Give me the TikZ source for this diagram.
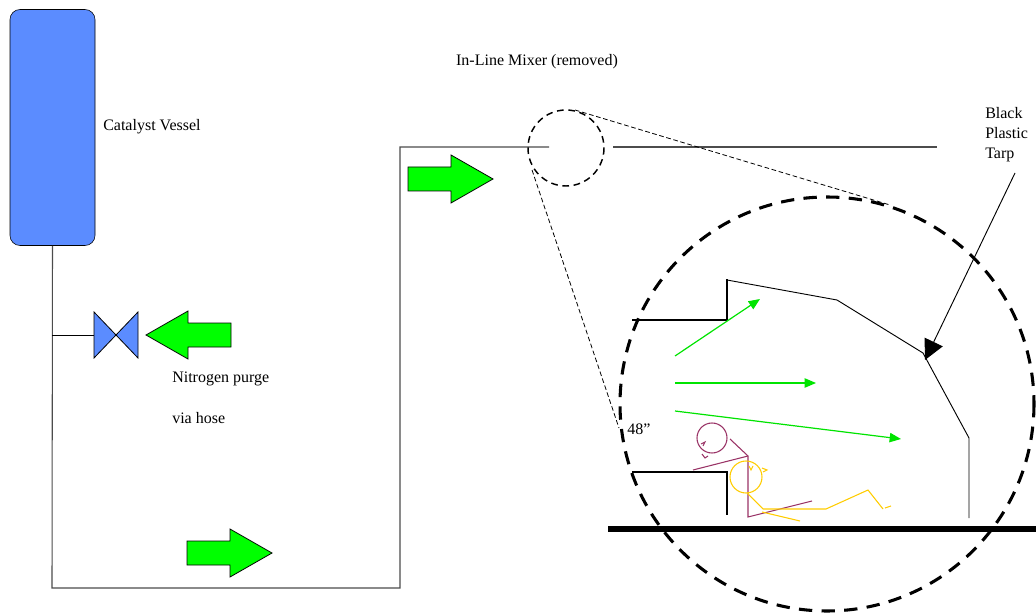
\documentclass[tikz,border=0pt]{standalone}
\usepackage{fontspec}
\setmainfont{Liberation Serif}
\usetikzlibrary{arrows.meta}
\definecolor{vesselblue}{RGB}{91,140,255}
\definecolor{purgegreen}{RGB}{0,255,0}
\definecolor{flowgreen}{RGB}{0,228,0}
\definecolor{workerplum}{RGB}{153,51,102}
\definecolor{workergold}{RGB}{255,204,0}
\tikzset{
  pipe/.style={line width=0.8pt, black!70},
  wall/.style={line width=1.3pt},
  tarpline/.style={line width=0.7pt},
  flowarrow/.style={-{Triangle[length=8.5pt,width=7pt]}, line width=0.9pt, flowgreen},
  zoomring/.style={line width=2.3pt, dash pattern=on 10pt off 7pt},
  mixring/.style={line width=1.1pt, dash pattern=on 5pt off 3.5pt},
  guide/.style={line width=0.6pt, dash pattern=on 3.5pt off 2pt},
  lbl/.style={font=\fontsize{12}{15}\selectfont, inner sep=0pt, anchor=west, align=left},
  vessel/.style={draw, fill=vesselblue, rounded corners=7.5pt, minimum width=63.75pt, minimum height=177pt, inner sep=0pt},
  worker/.style={line width=0.8pt},
  bigarrow/.pic={\draw[fill=purgegreen, line width=0.6pt] (0,-12) -- (43,-12) -- (43,-24) -- (85,0) -- (43,24) -- (43,12) -- (0,12) -- cycle;}
}

\begin{document}
\begin{tikzpicture}[x=0.75pt, y=-0.75pt]
  \useasboundingbox (0,0) rectangle (1036,613);

  % catalyst vessel and purge line
  \node[vessel] (vessel) at (52.5,127.5) {};
  \node[lbl] (vessellbl) at (103,127) {Catalyst Vessel};
  \coordinate (c1) at (52,588);
  \coordinate (c2) at (400,588);
  \coordinate (c3) at (400,147);
  \coordinate (mixin) at (549,147);
  \coordinate (mixout) at (613,147);
  \coordinate (pipeend) at (937,147);
  \draw[pipe] (vessel.south) -- (c1) -- (c2) -- (c3) -- (mixin);
  \draw[pipe] (mixout) -- (pipeend);

  % purge valve
  \coordinate (tee) at (52,335);
  \coordinate (valve) at (116,335);
  \draw[line width=0.6pt] (tee) -- (94,335);
  \draw[fill=vesselblue, line width=0.6pt] (94,312) -- (valve) -- (94,358) -- cycle;
  \draw[fill=vesselblue, line width=0.6pt] (138,312) -- (valve) -- (138,358) -- cycle;
  \pic[rotate=180] at (231,335) {bigarrow};
  \node[lbl] (purge1) at (172,379) {Nitrogen purge};
  \node[lbl] (purge2) at (172,418) {via hose};

  % flow direction
  \pic at (408,179) {bigarrow};
  \pic at (187,553) {bigarrow};

  % removed mixer and blow-up
  \node[lbl, anchor=center] (mixlbl) at (537,62) {In-Line Mixer (removed)};
  \coordinate (mixer) at (566,148);
  \coordinate (detail) at (827,404);
  \draw[mixring] (mixer) circle (38);
  \draw[guide] (575,110) -- (890,205);
  \draw[guide] (532,170) -- (619,428);
  \draw[zoomring] (detail) circle (207);

  % floor
  \draw[line width=4.5pt] (608,529) -- (1036,529);

  % wall openings and tarp
  \draw[wall] (632,320) -- (727,320) -- (727,279);
  \draw[wall] (632,472) -- (727,472) -- (727,515);
  \draw[tarpline] (727,280) -- (837,300) -- (923,353) -- (969,438) -- (969,518);
  \node[lbl] (tarplbl) at (985,135) {Black\\Plastic\\Tarp};
  \coordinate (tarptail) at (1015,173);
  \coordinate (tarptip) at (925,360);
  \draw[tarpline, -{Triangle[length=15pt,width=15pt]}] (tarptail) -- (tarptip);

  % nitrogen sweep
  \draw[flowarrow] (675,356) -- (760,299);
  \draw[flowarrow] (675,383) -- (816,383);
  \draw[flowarrow] (675,411) -- (901,439);
  \node[lbl] (height) at (627,429) {48”};

  % workers
  \draw[worker, workerplum] (712,438) circle (15);
  \draw[worker, workerplum] (730,439) -- (748,456) -- (748,517) -- (812,501);
  \draw[worker, workerplum] (693,470) -- (748,456);
  \draw[worker, workerplum] (701,444) -- (705,442) -- (703,446);
  \draw[worker, workerplum] (702,454) -- (705,458) -- (708,456);
  \draw[worker, workergold] (746,477) circle (16);
  \draw[worker, workergold] (747,493) -- (763,509) -- (826,509) -- (868,490) -- (883,509);
  \draw[worker, workergold] (762,512) -- (800,521);
  \draw[worker, workergold] (885,508) -- (891,506);
  \draw[worker, workergold] (749,466) -- (751,470) -- (753,466);
  \draw[worker, workergold] (762,468) -- (767,470) -- (763,472);
\end{tikzpicture}
\end{document}
